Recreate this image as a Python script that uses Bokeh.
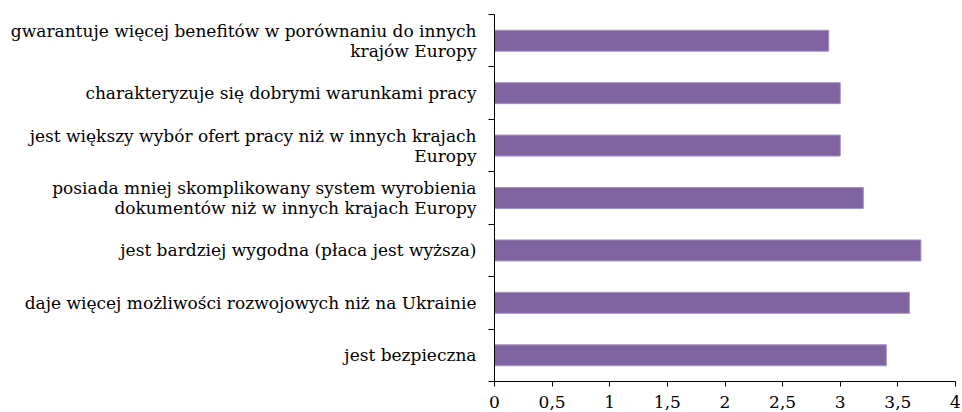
from bokeh.plotting import figure
from bokeh.models import Range1d, FixedTicker
from bokeh.embed import file_html
from bokeh.resources import INLINE

# bottom-to-top order
categories = [
    "jest bezpieczna",
    "daje więcej możliwości rozwojowych niż na Ukrainie",
    "jest bardziej wygodna (płaca jest wyższa)",
    "posiada mniej skomplikowany system wyrobienia\ndokumentów niż w innych krajach Europy",
    "jest większy wybór ofert pracy niż w innych krajach\nEuropy",
    "charakteryzuje się dobrymi warunkami pracy",
    "gwarantuje więcej benefitów w porównaniu do innych\nkrajów Europy",
]
values = [3.4, 3.6, 3.7, 3.2, 3.0, 3.0, 2.9]
x_ticks = [0, 0.5, 1, 1.5, 2, 2.5, 3, 3.5, 4]
x_tick_labels = ["0", "0,5", "1", "1,5", "2", "2,5", "3", "3,5", "4"]

FONT = "DejaVu Serif"
n = len(categories)
centers = [i + 0.5 for i in range(n)]

p = figure(
    frame_width=461, frame_height=367,
    min_border_left=494, min_border_right=7, min_border_top=14, min_border_bottom=30,
    x_range=Range1d(0, 4), y_range=Range1d(0, n),
    output_backend="svg", toolbar_location=None,
)
p.outline_line_color = None
p.xgrid.visible = False
p.ygrid.visible = False

p.hbar(y=centers, right=values, left=0, height=0.4,
       fill_color="#8064A2", line_color="#A592C0", line_width=1)

# x axis
p.xaxis.ticker = FixedTicker(ticks=x_ticks, minor_ticks=[])
p.xaxis.major_label_overrides = {t: l for t, l in zip(x_ticks, x_tick_labels)}
p.xaxis.major_tick_in = 0
p.xaxis.major_tick_out = 5
p.xaxis.minor_tick_line_color = None
p.xaxis.axis_line_color = "#000000"
p.xaxis.major_tick_line_color = "#000000"
p.xaxis.major_label_text_font = FONT
p.xaxis.major_label_text_font_size = "17px"
p.xaxis.major_label_text_color = "#000000"
p.xaxis.major_label_standoff = 9

# y axis: labels at centers, tick marks at boundaries (minor ticks)
p.yaxis.ticker = FixedTicker(ticks=centers, minor_ticks=list(range(n + 1)))
p.yaxis.major_label_overrides = {c: lab for c, lab in zip(centers, categories)}
p.yaxis.major_tick_in = 0
p.yaxis.major_tick_out = 0
p.yaxis.minor_tick_in = 0
p.yaxis.minor_tick_out = 6
p.yaxis.minor_tick_line_color = "#000000"
p.yaxis.axis_line_color = "#000000"
p.yaxis.major_label_text_font = FONT
p.yaxis.major_label_text_font_size = "17px"
p.yaxis.major_label_text_line_height = 1.0
p.yaxis.major_label_text_color = "#000000"
p.yaxis.major_label_standoff = 12

open("out.html", "w").write(file_html(p, INLINE))
